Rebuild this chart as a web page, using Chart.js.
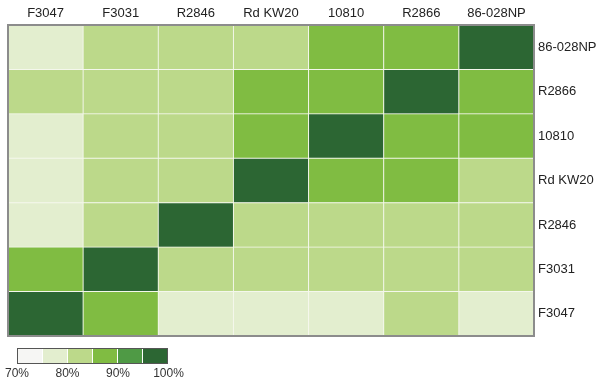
<!DOCTYPE html>
<html>
<head>
<meta charset="utf-8">
<script src="https://cdn.jsdelivr.net/npm/chart.js@4"></script>
<style>
  html, body { margin: 0; padding: 0; background: #fff; }
  #wrap { position: relative; width: 600px; height: 384px; font-family: "Liberation Sans", Arial, sans-serif; }
  #chart { position: absolute; left: 0; top: 0; }
  #scale { position: absolute; left: 17px; top: 348px; width: 149px; height: 14px; border: 1px solid #555; display: flex; }
  #scale div { flex: 1; border-left: 1px solid #fff; }
  #scale div:first-child { border-left: none; }
  .lbl { position: absolute; top: 366px; font-size: 12px; color: #333; transform: translateX(-50%); }
</style>
</head>
<body>
<div id="wrap">
  <canvas id="chart" width="600" height="384"></canvas>
  <div id="scale"></div>
</div>
<script>
// названия штаммов (столбцы слева направо, строки снизу вверх)
const colLabels = ["F3047", "F3031", "R2846", "Rd KW20", "10810", "R2866", "86-028NP"];
const rowLabels = ["F3047", "F3031", "R2846", "Rd KW20", "10810", "R2866", "86-028NP"];

// идентичность, % (строка = rowLabels[i], снизу вверх)
const rowF3047   = [100, 88.2, 78.1, 77.6, 78.4, 82.3, 78.0];
const rowF3031   = [88.2, 100, 83.1, 82.6, 82.9, 83.4, 82.7];
const rowR2846   = [78.1, 83.1, 100, 82.8, 83.0, 82.5, 83.2];
const rowRdKW20  = [77.6, 82.6, 82.8, 100, 87.9, 88.3, 83.5];
const row10810   = [78.4, 82.9, 83.0, 87.9, 100, 88.6, 88.1];
const rowR2866   = [82.3, 83.4, 82.5, 88.3, 88.6, 100, 87.7];
const row86028NP = [78.0, 82.7, 83.2, 83.5, 88.1, 87.7, 100];
const values = [rowF3047, rowF3031, rowR2846, rowRdKW20, row10810, rowR2866, row86028NP];

// шкала цветов: границы интервалов и цвета
const binEdges = [70, 75, 80, 85, 90, 95, 100];
const binColors = ["#f6f6f4", "#e3eecf", "#bcd98a", "#80bc42", "#4f9a45", "#2c6633"];
const scaleTicks = ["70%", "80%", "90%", "100%"];

const colorFor = v => {
  for (let i = 0; i < binColors.length; i++) {
    if (v < binEdges[i + 1]) return binColors[i];
  }
  return binColors[binColors.length - 1];
};

// легенда-шкала (HTML)
const scaleEl = document.getElementById("scale");
binColors.forEach(c => {
  const d = document.createElement("div");
  d.style.background = c;
  scaleEl.appendChild(d);
});
const wrap = document.getElementById("wrap");
scaleTicks.forEach((t, i) => {
  const s = document.createElement("span");
  s.className = "lbl";
  s.textContent = t;
  s.style.left = (17 + i * 50.5) + "px";
  wrap.appendChild(s);
});

// рамка вокруг поля
const frame = {
  id: "frame",
  afterDatasetsDraw(chart) {
    const { ctx, chartArea: a } = chart;
    ctx.save();
    ctx.strokeStyle = "#8c8c8c";
    ctx.lineWidth = 2;
    ctx.strokeRect(a.left, a.top, a.right - a.left, a.bottom - a.top);
    ctx.restore();
  }
};

const datasets = rowLabels.map((name, i) => ({
  label: name,
  data: colLabels.map(() => 1),
  backgroundColor: values[i].map(colorFor),
  borderColor: "#f4f7ec",
  borderWidth: 0.8,
  borderSkipped: false,
  barPercentage: 1,
  categoryPercentage: 1
}));

new Chart(document.getElementById("chart"), {
  type: "bar",
  data: { labels: colLabels, datasets },
  plugins: [frame],
  options: {
    responsive: false,
    animation: false,
    layout: { padding: { left: 8, right: 0, top: 0, bottom: 48 } },
    plugins: { legend: { display: false }, tooltip: { enabled: false } },
    scales: {
      x: {
        position: "top",
        stacked: true,
        grid: { display: false, drawTicks: false },
        border: { display: false },
        ticks: { color: "#222", font: { family: "Liberation Sans", size: 13 }, padding: 4, maxRotation: 0 },
        afterFit: s => { s.height = 25; }
      },
      y: {
        position: "right",
        stacked: true,
        min: 0,
        max: 7,
        grid: { display: false, drawTicks: false },
        border: { display: false },
        afterBuildTicks: axis => { axis.ticks = rowLabels.map((_, i) => ({ value: i + 0.5 })); },
        ticks: {
          color: "#222",
          font: { family: "Liberation Sans", size: 13 },
          padding: 4,
          callback: (v) => rowLabels[Math.floor(v)]
        },
        afterFit: s => { s.width = 66; }
      }
    }
  }
});
</script>
</body>
</html>
